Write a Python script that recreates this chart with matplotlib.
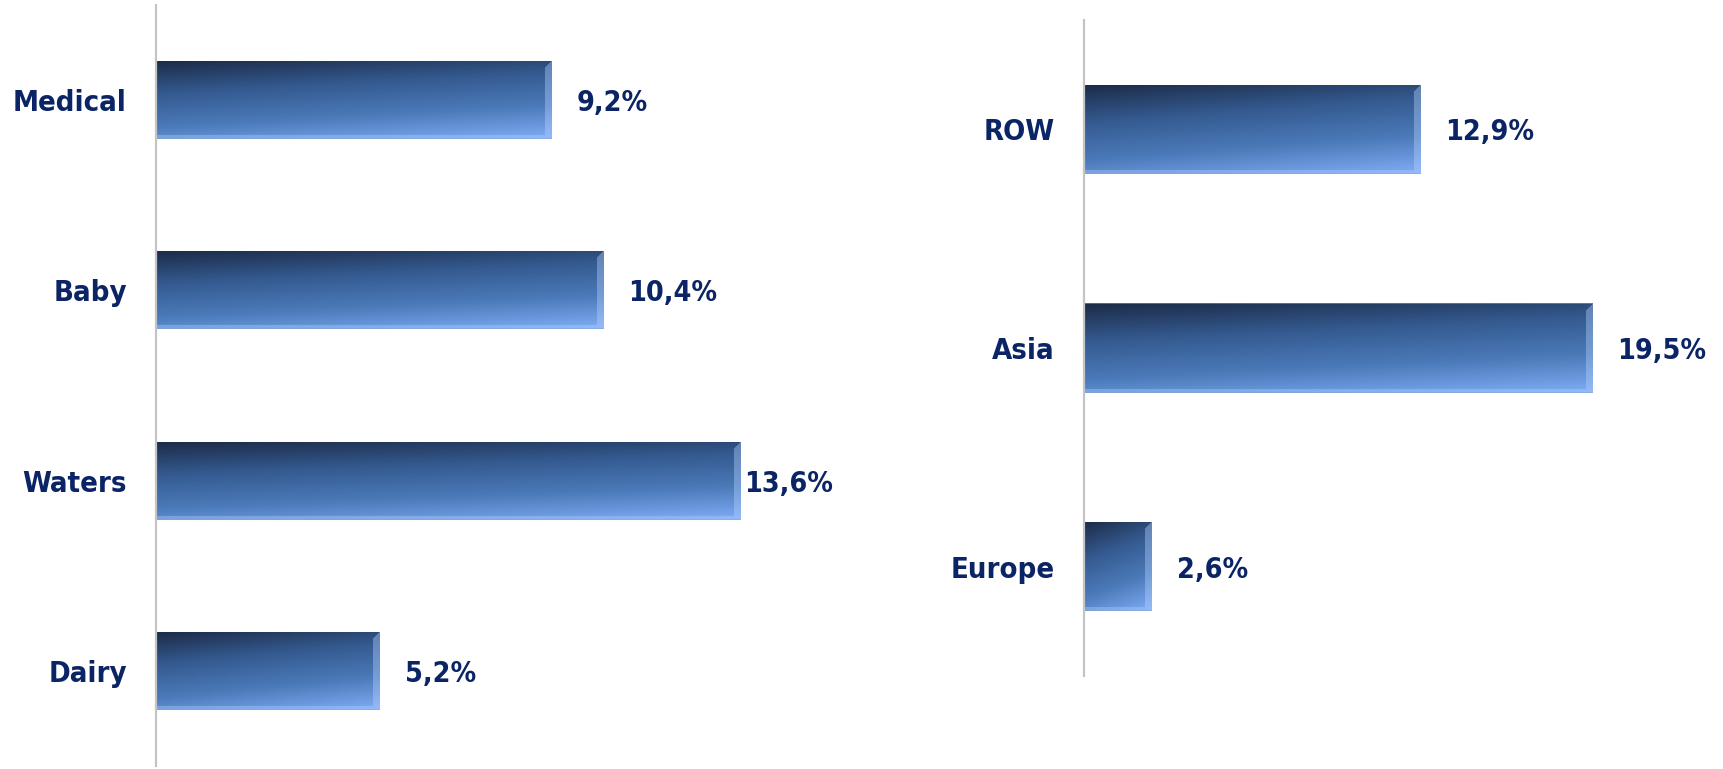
import numpy as np
import matplotlib
matplotlib.use("Agg")
import matplotlib.pyplot as plt
from matplotlib.colors import LinearSegmentedColormap, to_rgb

# Growth by business line and by region (%)
business_lines = ["Medical", "Baby", "Waters", "Dairy"]
business_growth = [9.2, 10.4, 13.6, 5.2]
regions = ["ROW", "Asia", "Europe"]
region_growth = [12.9, 19.5, 2.6]

TEXT_COLOR = "#0b2466"
AXIS_COLOR = "#c4c4c4"
FONT = ["DejaVu Sans"]
DPI = 100

fill_cmap = LinearSegmentedColormap.from_list(
    "bar_fill", ["#1c2b47", "#345a90", "#4b7ab9", "#80acf5"])


def fmt(v):
    return f"{v:.1f}".replace(".", ",") + "%"


def bevel_image(w_px, h_px):
    """RGB array for a bevelled bar with a diagonal dark-to-light gradient."""
    w_px = max(int(round(w_px)), 2)
    h_px = max(int(round(h_px)), 2)
    yy, xx = np.mgrid[0:h_px, 0:w_px]
    v = yy / (h_px - 1)
    u = xx / (w_px - 1)
    t = np.clip(0.78 * v + 0.22 * u, 0, 1)
    img = fill_cmap(t)[..., :3]

    b_r = min(7.0, w_px / 4)
    b_b = 3.5
    b_t = min(7.0, h_px / 6)
    dr = (w_px - 1 - xx).astype(float)
    db = (h_px - 1 - yy).astype(float)
    dt = yy.astype(float)

    right = (dr < b_r) & (dr / b_r < db / b_b) & (dr / b_r < dt / b_t)
    bottom = (db < b_b) & (db / b_b <= dr / b_r)
    light = np.array(to_rgb("#b4d2ff"))
    img[right] = img[right] * 0.6 + light * 0.4
    img[bottom] = img[bottom] * 0.65 + light * 0.35
    # thin outline on top and bottom
    img[0, :] = img[0, :] * 0.5 + np.array(to_rgb("#9aa6b8")) * 0.5
    img[-1, :] = img[-1, :] * 0.6 + np.array(to_rgb("#7f9cc8")) * 0.4
    return img


def draw_panel(ax, cats, vals, xmax):
    n = len(cats)
    ypos = np.arange(n)
    ax.set_xlim(0, xmax)
    ax.set_ylim(n - 0.5, -0.5)
    bars = ax.barh(ypos, vals, height=0.41, color="none", edgecolor="none")

    bbox = ax.get_window_extent()
    px_x = bbox.width / xmax
    px_y = bbox.height / n
    for bar in bars:
        x0, y0 = bar.get_x(), bar.get_y()
        w, h = bar.get_width(), bar.get_height()
        img = bevel_image(w * px_x, h * px_y)
        im = ax.imshow(img, extent=(x0, x0 + w, y0 + h, y0), aspect="auto",
                       interpolation="bilinear", zorder=2)
        im.set_clip_path(bar)
    ax.set_xlim(0, xmax)
    ax.set_ylim(n - 0.5, -0.5)

    for s in ["top", "right", "bottom"]:
        ax.spines[s].set_visible(False)
    ax.spines["left"].set_color(AXIS_COLOR)
    ax.spines["left"].set_linewidth(1.6)
    ax.set_xticks([])
    ax.set_yticks(ypos)
    ax.set_yticklabels(cats, fontsize=21, fontweight="bold",
                       fontstretch="condensed", color=TEXT_COLOR, family=FONT)
    ax.tick_params(axis="y", length=0, pad=21)

    labels = []
    for yv, v in zip(ypos, vals):
        t = ax.annotate(fmt(v), xy=(v, yv), xytext=(18, 0),
                        textcoords="offset points", ha="left",
                        va="center_baseline", fontsize=20.5, fontweight="bold",
                        fontstretch="condensed", color=TEXT_COLOR,
                        family=FONT, annotation_clip=False)
        labels.append(t)
    return labels


fig = plt.figure(figsize=(17.24, 7.69), dpi=DPI)
W, H = 1724, 769

axL = fig.add_axes([156 / W, 3 / H, (833 - 156) / W, 761 / H])
axR = fig.add_axes([1084 / W, (H - 676) / H, (1715 - 1084) / W, 656 / H])

labelsL = draw_panel(axL, business_lines, business_growth, 15.75)
labelsR = draw_panel(axR, regions, region_growth, 24.2)

# keep value labels inside their plot area
fig.canvas.draw()
renderer = fig.canvas.get_renderer()
for ax, labels in [(axL, labelsL), (axR, labelsR)]:
    right_edge = ax.get_window_extent().x1
    for t in labels:
        ext = t.get_window_extent(renderer)
        if ext.x1 > right_edge:
            shift = (ext.x1 - right_edge) * 72 / DPI
            ox, oy = t.xyann
            t.xyann = (ox - shift, oy)

fig.savefig("out.png", dpi=DPI, facecolor="white")
